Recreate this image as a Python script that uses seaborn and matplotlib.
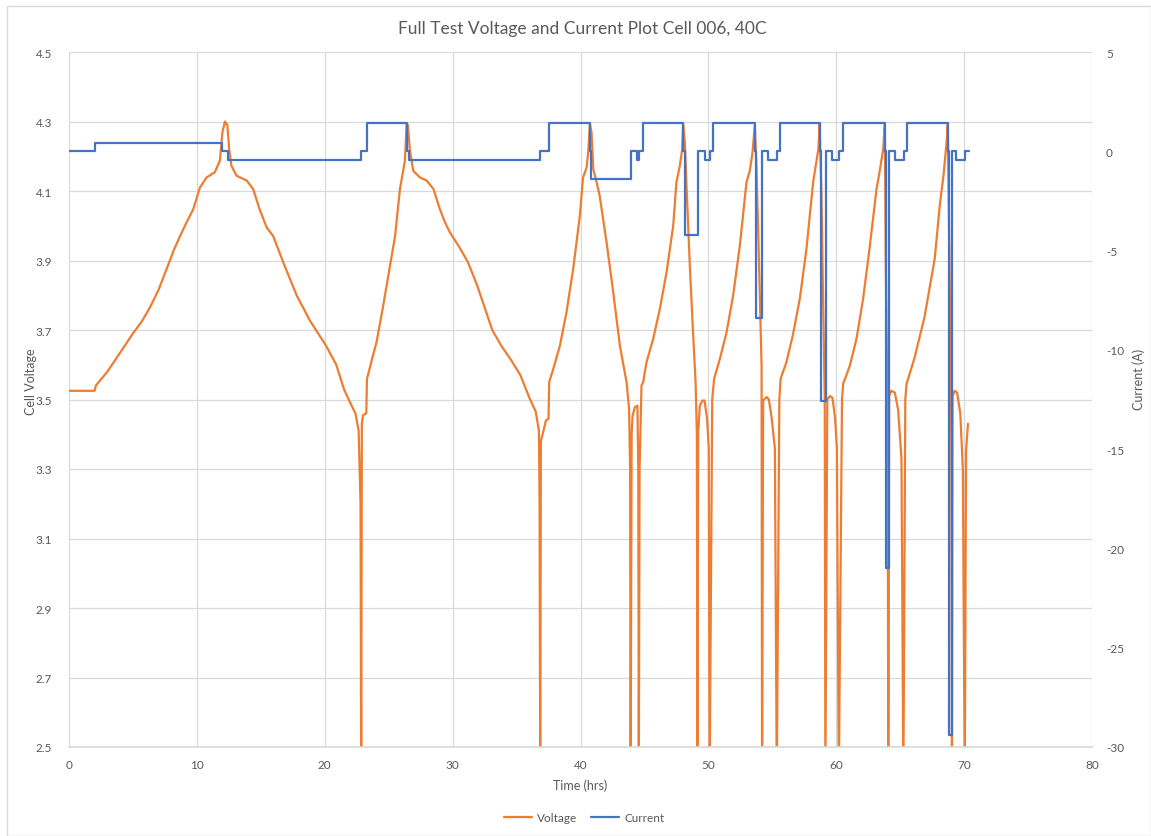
import numpy as np
import pandas as pd
import matplotlib
matplotlib.use("Agg")
import matplotlib.pyplot as plt
import seaborn as sns
from matplotlib.patches import Rectangle

# ---------------- data ----------------
# Voltage, per test segment: (time hrs, cell voltage)
seg1_t = [0.0, 2.0, 2.1, 3.0, 4.0, 5.0, 5.7, 6.33, 7.0, 7.64, 8.2, 8.68, 9.2, 9.72, 10.24, 10.76, 11.4, 11.8,
          12.0, 12.2, 12.38, 12.53, 12.7, 13.1, 13.9, 14.4, 14.9, 15.46, 15.97, 16.75, 17.8, 18.84, 20.1, 20.9,
          21.5, 22.0, 22.4, 22.65, 22.8, 22.85]
seg1_v = [3.525, 3.525, 3.54, 3.58, 3.635, 3.69, 3.725, 3.765, 3.815, 3.876, 3.93, 3.97, 4.01, 4.048, 4.11, 4.139,
          4.154, 4.187, 4.27, 4.30, 4.29, 4.22, 4.173, 4.144, 4.13, 4.106, 4.048, 3.995, 3.97, 3.895, 3.80, 3.727,
          3.655, 3.60, 3.53, 3.49, 3.46, 3.41, 3.2, 2.4]

seg2_t = [22.9, 23.0, 23.25, 23.3, 23.45, 23.7, 24.05, 24.57, 25.1, 25.5, 25.88, 26.09, 26.27, 26.4, 26.5, 26.66,
          26.92, 27.44, 27.97, 28.5, 29.0, 29.4, 29.8, 30.5, 31.2, 31.9, 32.5, 33.1, 33.8, 34.6, 35.3, 36.0, 36.5,
          36.75, 36.8, 36.85]
seg2_v = [3.43, 3.455, 3.46, 3.56, 3.58, 3.617, 3.665, 3.77, 3.885, 3.97, 4.106, 4.149, 4.187, 4.293, 4.29, 4.216,
          4.158, 4.139, 4.13, 4.106, 4.048, 4.01, 3.98, 3.94, 3.895, 3.83, 3.765, 3.70, 3.655, 3.612, 3.57, 3.505,
          3.465, 3.41, 3.2, 2.4]

seg3_t = [36.9, 37.08, 37.3, 37.5, 37.55, 37.87, 38.39, 38.9, 39.43, 39.95, 40.2, 40.48, 40.6, 40.73, 40.86, 41.0,
          41.26, 41.5, 42.04, 42.56, 43.08, 43.6, 43.8, 43.88, 43.92]
seg3_v = [3.38, 3.406, 3.44, 3.445, 3.55, 3.588, 3.655, 3.75, 3.876, 4.029, 4.139, 4.168, 4.21, 4.293, 4.27, 4.163,
          4.125, 4.086, 3.952, 3.808, 3.655, 3.55, 3.473, 3.3, 2.4]

seg4_t = [44.0, 44.07, 44.25, 44.45, 44.52, 44.56, 44.62, 44.77, 44.9, 45.16, 45.68, 46.2, 46.73, 47.25, 47.5,
          47.77, 47.95, 48.03, 48.16, 48.3, 48.55, 48.8, 49.0, 49.1, 49.15]
seg4_v = [3.4, 3.453, 3.478, 3.482, 3.3, 2.4, 3.3, 3.54, 3.55, 3.607, 3.674, 3.76, 3.866, 4.0, 4.125, 4.173, 4.22,
          4.293, 4.24, 4.106, 3.885, 3.693, 3.55, 3.4, 2.4]

seg5_t = [49.2, 49.33, 49.54, 49.7, 49.9, 50.03, 50.1, 50.3, 50.45, 50.9, 51.42, 51.94, 52.46, 52.98, 53.24, 53.45,
          53.63, 53.76, 53.9, 54.03, 54.16, 54.2]
seg5_v = [3.4, 3.482, 3.497, 3.497, 3.444, 3.36, 2.4, 3.5, 3.56, 3.617, 3.693, 3.80, 3.943, 4.125, 4.158, 4.21,
          4.29, 4.17, 3.98, 3.79, 3.597, 2.4]

seg6_t = [54.28, 54.55, 54.73, 54.94, 55.2, 55.35, 55.55, 55.65, 56.1, 56.6, 57.15, 57.67, 58.19, 58.4, 58.6, 58.7,
          58.85, 58.97, 59.1, 59.15]
seg6_v = [3.497, 3.507, 3.50, 3.45, 3.36, 2.4, 3.5, 3.56, 3.607, 3.684, 3.79, 3.933, 4.125, 4.173, 4.22, 4.293,
          4.077, 3.79, 3.50, 2.4]

seg7_t = [59.3, 59.5, 59.7, 59.9, 60.05, 60.2, 60.45, 60.54, 61.06, 61.58, 62.1, 62.6, 63.15, 63.4, 63.67, 63.8,
          63.87, 64.02, 64.07]
seg7_v = [3.50, 3.51, 3.505, 3.45, 3.36, 2.4, 3.5, 3.545, 3.597, 3.674, 3.79, 3.933, 4.106, 4.158, 4.22, 4.293,
          3.9, 3.45, 2.4]

seg8_t = [64.14, 64.3, 64.58, 64.84, 65.1, 65.25, 65.4, 65.5, 66.1, 66.9, 67.7, 68.1, 68.4, 68.65, 68.72, 68.85,
          69.0, 69.05, 69.1, 69.25, 69.45, 69.7, 69.9, 70.05, 70.15, 70.3]
seg8_v = [3.51, 3.525, 3.52, 3.47, 3.33, 2.4, 3.5, 3.545, 3.617, 3.737, 3.905, 4.06, 4.149, 4.25, 4.295, 3.9,
          3.4, 2.4, 3.51, 3.525, 3.52, 3.46, 3.3, 2.4, 3.35, 3.43]

# Current step changes: (start time hrs, current A)
current_t = [0.0, 2.0, 12.0, 12.4, 22.85, 23.3, 26.4, 26.6, 36.85, 37.55, 40.75, 40.85, 43.95, 44.45, 44.6, 44.85,
             48.03, 48.15, 49.2, 49.7, 50.15, 50.35, 53.63, 53.7, 54.22, 54.7, 55.35, 55.6, 58.72, 58.82, 59.2,
             59.65, 60.2, 60.5, 63.8, 63.88, 64.1, 64.6, 65.3, 65.5, 68.72, 68.85, 69.05, 69.4, 70.05, 70.35]
current_a = [0.0, 0.42, 0.0, -0.44, 0.0, 1.4, 0.0, -0.44, 0.0, 1.4, 0.0, -1.4, 0.0, -0.44, 0.0, 1.4,
             0.0, -4.2, 0.0, -0.44, 0.0, 1.4, 0.0, -8.4, 0.0, -0.44, 0.0, 1.4, 0.0, -12.6, 0.0,
             -0.44, 0.0, 1.4, 0.0, -21.0, 0.0, -0.44, 0.0, 1.4, 0.0, -29.4, 0.0, -0.44, 0.0, 0.0]

x_ticks = [0, 10, 20, 30, 40, 50, 60, 70, 80]
v_ticks = [2.5, 2.7, 2.9, 3.1, 3.3, 3.5, 3.7, 3.9, 4.1, 4.3, 4.5]
i_ticks = [-30, -25, -20, -15, -10, -5, 0, 5]

title = "Full Test Voltage and Current Plot Cell 006, 40C"

# ---------------- build tables ----------------
volt_df = pd.DataFrame({
    "time": seg1_t + seg2_t + seg3_t + seg4_t + seg5_t + seg6_t + seg7_t + seg8_t,
    "voltage": seg1_v + seg2_v + seg3_v + seg4_v + seg5_v + seg6_v + seg7_v + seg8_v,
})
curr_df = pd.DataFrame({"time": current_t, "current": current_a})

# ---------------- style ----------------
sns.set_theme(style="white")
plt.rcParams["font.family"] = ["Lato", "DejaVu Sans"]
plt.rcParams["axes.unicode_minus"] = False

ORANGE = "#ED7D31"
BLUE = "#4472C4"
GRID = "#D9D9D9"
TEXT = "#595959"

fig = plt.figure(figsize=(11.51, 8.37), dpi=100)
ax = fig.add_axes([69 / 1151, 1 - 748 / 837, (1092 - 69) / 1151, (748 - 53) / 837])
ax2 = ax.twinx()

sns.lineplot(data=volt_df, x="time", y="voltage", ax=ax, color=ORANGE, linewidth=1.6,
             sort=False, estimator=None, legend=False)
sns.lineplot(data=curr_df, x="time", y="current", ax=ax2, color=BLUE, linewidth=1.6,
             sort=False, estimator=None, legend=False, drawstyle="steps-post")

ax.set_xlim(0, 80)
ax.set_ylim(2.5, 4.5)
ax2.set_ylim(-30, 5)
ax.set_xticks(x_ticks)
ax.set_yticks(v_ticks)
ax.set_yticklabels([f"{v:.1f}" for v in v_ticks])
ax2.set_yticks(i_ticks)
ax.set_xticklabels([str(x) for x in x_ticks])

ax.grid(True, color=GRID, linewidth=0.9)
ax2.grid(False)
for a in (ax, ax2):
    for s in a.spines.values():
        s.set_visible(False)
ax.spines["bottom"].set_visible(True)
ax.spines["bottom"].set_color(GRID)

ax.tick_params(axis="both", length=0, labelsize=8.5, labelcolor=TEXT)
ax.tick_params(axis="y", pad=12)
ax.tick_params(axis="x", pad=9)
ax2.tick_params(axis="y", length=0, labelsize=8.5, labelcolor=TEXT, pad=10)

ax.set_xlabel("Time (hrs)", fontsize=9, color=TEXT, labelpad=6)
ax.set_ylabel("Cell Voltage", fontsize=9, color=TEXT)
ax2.set_ylabel("Current (A)", fontsize=9, color=TEXT)
ax.yaxis.set_label_coords(-0.031, 0.527)
ax2.yaxis.set_label_coords(1.04, 0.53)

fig.text(582 / 1151, 1 - 29 / 837, title, ha="center", va="center", fontsize=12.5, color=TEXT)

handles = [ax.lines[0], ax2.lines[0]]
fig.legend(handles, ["Voltage", "Current"], loc="center", bbox_to_anchor=(584 / 1151, 1 - 819 / 837),
           ncol=2, frameon=False, fontsize=8.5, labelcolor=TEXT, handlelength=2.4, columnspacing=1.2,
           handletextpad=0.4)

fig.patches.append(Rectangle((7 / 1151, 0.0), 1 - 7 / 1151, 1 - 7 / 837, transform=fig.transFigure,
                             fill=False, edgecolor="#D9D9D9", linewidth=1.0))

fig.savefig("out.png", dpi=100)
